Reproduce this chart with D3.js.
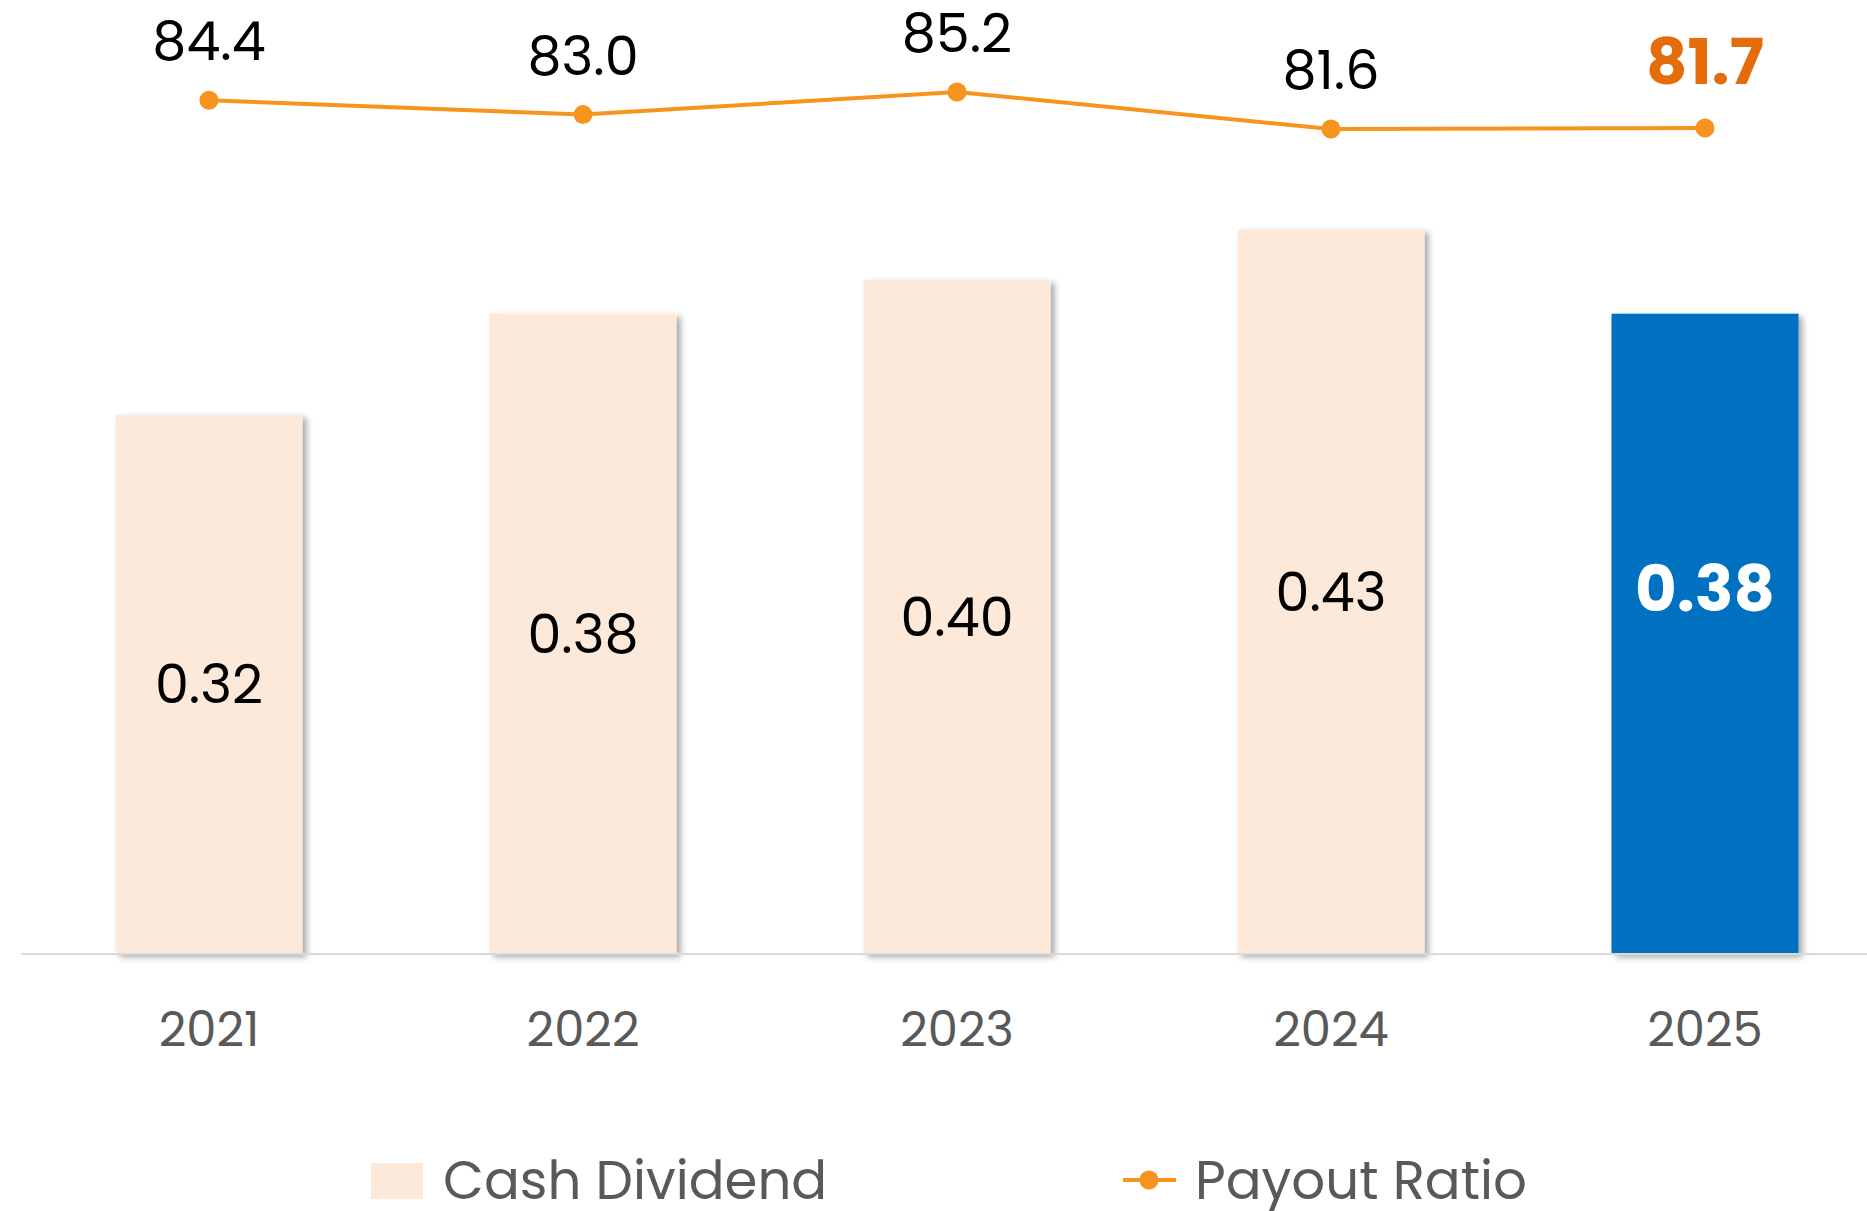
<!DOCTYPE html>
<html>
<head>
<meta charset="utf-8">
<script src="https://cdn.jsdelivr.net/npm/d3@7"></script>
<style>
	body { margin: 0; background: #fff; }
	text { font-family: Poppins, Inter, sans-serif; }
</style>
</head>
<body>
<div id="chart"></div>
<script>
var svgWidth = 1867;
var svgHeight = 1211;

var years = ['2021', '2022', '2023', '2024', '2025'];
var dividend = [0.32, 0.38, 0.40, 0.43, 0.38];
var payout = [84.4, 83.0, 85.2, 81.6, 81.7];
var highlight = '2025';

var peach = '#FCE9DA';
var blue = '#0070C0';
var orange = '#F7941D';
var darkOrange = '#E46C0A';
var grey = '#595959';

var svg = d3.select('#chart').append('svg')
	.attr('width', svgWidth)
	.attr('height', svgHeight);

// drop shadow for the bars
var defs = svg.append('defs');
defs.append('filter')
	.attr('id', 'shadow')
	.attr('x', '-10%').attr('y', '-10%')
	.attr('width', '130%').attr('height', '130%')
	.append('feDropShadow')
	.attr('dx', 4).attr('dy', 3)
	.attr('stdDeviation', 3)
	.attr('flood-color', '#000')
	.attr('flood-opacity', 0.35);

var xScale = d3.scaleBand()
	.domain(years)
	.range([22, 1892])
	.paddingInner(0.5)
	.paddingOuter(0.25);

var baseline = 954;
var yScale = d3.scaleLinear()
	.domain([0, 0.40])
	.range([baseline, baseline - 674]);

var y2Scale = d3.scaleLinear()
	.domain([81.6, 85.2])
	.range([129, 92]);

var data = years.map(function(d, i) {
	return {year: d, div: dividend[i], pay: payout[i]};
});

// bars
svg.append('g')
	.selectAll('rect')
	.data(data)
	.enter()
	.append('rect')
	.attr('x', d => xScale(d.year))
	.attr('y', d => yScale(d.div))
	.attr('width', xScale.bandwidth())
	.attr('height', d => baseline - yScale(d.div))
	.attr('fill', d => d.year == highlight ? blue : peach)
	.attr('filter', 'url(#shadow)');

// axis line
svg.append('line')
	.attr('x1', 21).attr('x2', svgWidth)
	.attr('y1', baseline).attr('y2', baseline)
	.attr('stroke', '#d9d9d9')
	.attr('stroke-width', 2);

// bar labels
svg.append('g')
	.selectAll('text')
	.data(data)
	.enter()
	.append('text')
	.attr('x', d => xScale(d.year) + xScale.bandwidth() / 2)
	.attr('y', d => (yScale(d.div) + baseline) / 2 - (d.year == highlight ? 45 : 0))
	.attr('dy', '0.35em')
	.attr('text-anchor', 'middle')
	.attr('font-size', d => d.year == highlight ? '64px' : '54px')
	.attr('font-weight', d => d.year == highlight ? 700 : 400)
	.attr('fill', d => d.year == highlight ? '#fff' : '#000')
	.text(d => d.div.toFixed(2));

// x axis labels
var xAxis = d3.axisBottom(xScale).tickSize(0).tickPadding(0);
var xg = svg.append('g')
	.attr('transform', 'translate(0,' + (baseline + 75) + ')')
	.call(xAxis);
xg.select('.domain').remove();
xg.selectAll('text')
	.attr('dy', '0.35em')
	.attr('font-size', '48px')
	.attr('fill', grey);

// payout line
var line = d3.line()
	.x(d => xScale(d.year) + xScale.bandwidth() / 2)
	.y(d => y2Scale(d.pay));

svg.append('path')
	.datum(data)
	.attr('d', line)
	.attr('fill', 'none')
	.attr('stroke', orange)
	.attr('stroke-width', 4);

svg.append('g')
	.selectAll('circle')
	.data(data)
	.enter()
	.append('circle')
	.attr('cx', d => xScale(d.year) + xScale.bandwidth() / 2)
	.attr('cy', d => y2Scale(d.pay))
	.attr('r', 9.5)
	.attr('fill', orange);

svg.append('g')
	.selectAll('text')
	.data(data)
	.enter()
	.append('text')
	.attr('x', d => xScale(d.year) + xScale.bandwidth() / 2)
	.attr('y', d => y2Scale(d.pay) - (d.year == highlight ? 44 : 40))
	.attr('text-anchor', 'middle')
	.attr('font-size', d => d.year == highlight ? '64px' : '54px')
	.attr('font-weight', d => d.year == highlight ? 700 : 400)
	.attr('fill', d => d.year == highlight ? darkOrange : '#000')
	.text(d => d.pay.toFixed(1));

// legend
var legendY = 1180;
var legend = svg.append('g');
legend.append('rect')
	.attr('x', 371).attr('y', legendY - 17)
	.attr('width', 52).attr('height', 36)
	.attr('fill', peach);
legend.append('text')
	.attr('x', 443).attr('y', legendY)
	.attr('dy', '0.35em')
	.attr('font-size', '53px')
	.attr('fill', grey)
	.text('Cash Dividend');
legend.append('line')
	.attr('x1', 1123).attr('x2', 1176)
	.attr('y1', legendY).attr('y2', legendY)
	.attr('stroke', orange)
	.attr('stroke-width', 4);
legend.append('circle')
	.attr('cx', 1149).attr('cy', legendY)
	.attr('r', 9.5)
	.attr('fill', orange);
legend.append('text')
	.attr('x', 1195).attr('y', legendY)
	.attr('dy', '0.35em')
	.attr('font-size', '53px')
	.attr('fill', grey)
	.text('Payout Ratio');
</script>
</body>
</html>
